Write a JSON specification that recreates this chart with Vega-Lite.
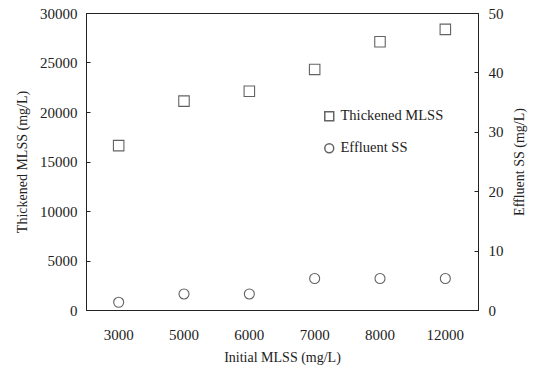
{
  "$schema": "https://vega.github.io/schema/vega-lite/v6.json",
  "width": 392,
  "height": 297,
  "autosize": "none",
  "padding": {"left": 86, "top": 13, "right": 64, "bottom": 58},
  "background": "white",
  "config": {
    "font": "Liberation Serif",
    "view": {"stroke": "#222", "strokeWidth": 1},
    "axis": {"grid": false, "domainColor": "#222", "tickColor": "#222", "labelColor": "#222", "titleColor": "#222", "labelFont": "Liberation Serif", "titleFont": "Liberation Serif", "labelFontSize": 15, "titleFontSize": 14, "titleFontWeight": "normal"},
    "legend": {"labelFont": "Liberation Serif", "labelFontSize": 14.5, "labelColor": "#222"}
  },
  "data": {
    "values": [
      {"initial": "3000", "thickened": 16600, "effluent": 1.3},
      {"initial": "5000", "thickened": 21100, "effluent": 2.7},
      {"initial": "6000", "thickened": 22100, "effluent": 2.7},
      {"initial": "7000", "thickened": 24300, "effluent": 5.3},
      {"initial": "8000", "thickened": 27100, "effluent": 5.3},
      {"initial": "12000", "thickened": 28350, "effluent": 5.3}
    ]
  },
  "encoding": {
    "x": {"field": "initial", "type": "ordinal", "sort": null, "scale": {"type": "band", "paddingInner": 0, "paddingOuter": 0},
      "axis": {"title": "Initial MLSS (mg/L)", "labelAngle": 0, "ticks": false, "labelPadding": 17, "titlePadding": 8}}
  },
  "layer": [
    {
      "mark": {"type": "point", "filled": false, "stroke": "#222", "strokeWidth": 1.1, "size": 110},
      "encoding": {
        "y": {"field": "thickened", "type": "quantitative", "scale": {"domain": [0, 30000]},
          "axis": {"title": "Thickened MLSS (mg/L)", "orient": "left", "format": "d", "values": [0, 5000, 10000, 15000, 20000, 25000, 30000], "tickSize": -4, "labelPadding": 13, "titlePadding": 10}},
        "shape": {"datum": "Thickened MLSS", "type": "nominal",
          "scale": {"domain": ["Thickened MLSS", "Effluent SS"], "range": ["square", "circle"]},
          "legend": {"title": null, "orient": "none", "legendX": 236, "legendY": 96, "symbolStrokeColor": "#222", "symbolFillColor": "transparent", "symbolSize": 80, "rowPadding": 16, "labelOffset": 4}}
      }
    },
    {
      "mark": {"type": "point", "filled": false, "stroke": "#222", "strokeWidth": 1.1, "size": 100},
      "encoding": {
        "y": {"field": "effluent", "type": "quantitative", "scale": {"domain": [0, 50]},
          "axis": {"title": "Effluent SS (mg/L)", "orient": "right", "titleAngle": 270, "values": [0, 10, 20, 30, 40, 50], "tickSize": -4, "labelPadding": 14, "titlePadding": 23}},
        "shape": {"datum": "Effluent SS", "type": "nominal"}
      }
    }
  ],
  "resolve": {"scale": {"y": "independent"}}
}
